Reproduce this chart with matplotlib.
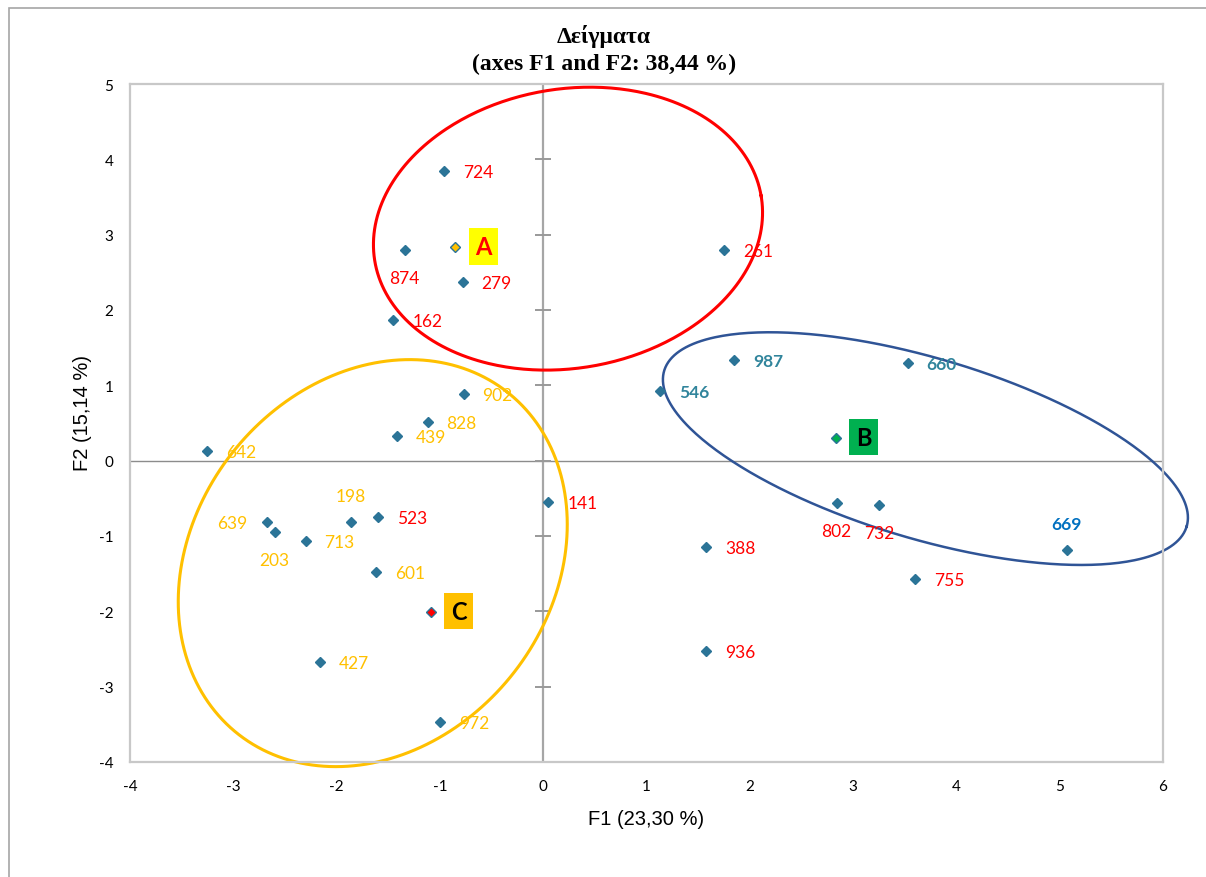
import numpy as np
import matplotlib
matplotlib.use("Agg")
import matplotlib.pyplot as plt
from matplotlib.patches import Rectangle

plt.rcParams['axes.unicode_minus'] = False

# sample scores on F1 / F2
names = ['724', '874', '279', '162', '261', '987', '660', '546', '802', '732',
         '669', '755', '388', '936', '141', '902', '828', '439', '642', '639',
         '203', '713', '198', '523', '601', '427', '972']
f1 = [-0.96, -1.34, -0.78, -1.45, 1.75, 1.85, 3.53, 1.13, 2.84, 3.25,
      5.07, 3.60, 1.58, 1.58, 0.05, -0.77, -1.12, -1.42, -3.25, -2.67,
      -2.60, -2.30, -1.86, -1.60, -1.62, -2.16, -1.00]
f2 = [3.85, 2.80, 2.37, 1.87, 2.80, 1.33, 1.30, 0.93, -0.56, -0.59,
      -1.19, -1.57, -1.14, -2.53, -0.55, 0.89, 0.51, 0.33, 0.13, -0.81,
      -0.95, -1.07, -0.81, -0.75, -1.48, -2.67, -3.47]

# group centroids
groups = ['A', 'B', 'C']
cx = [-0.85, 2.83, -1.09]
cy = [2.83, 0.30, -2.01]

RED = '#FF0000'
YEL = '#FFC000'
TEAL = '#31859C'
BLUE = '#0070C0'
MARK = '#2B7497'

lab_color = {'724': RED, '874': RED, '279': RED, '162': RED, '261': RED,
             '802': RED, '732': RED, '755': RED, '388': RED, '936': RED,
             '141': RED, '523': RED,
             '987': TEAL, '660': TEAL, '546': TEAL, '669': BLUE}
bold_labels = ['987', '660', '546', '669']
# label side relative to marker
side = {'874': 'b', '802': 'b', '732': 'b', '203': 'b',
        '669': 't', '198': 't', '639': 'l'}
offs = {'r': (34, -1), 'b': (0, -28), 't': (0, 26), 'l': (-35, -1)}

fig = plt.figure(figsize=(12.06, 8.78), dpi=100)
fig.patches.append(Rectangle((9 / 1206, -0.1), 1.2, 1 - 9 / 878 + 0.1,
                             transform=fig.transFigure, fill=False,
                             edgecolor='#A6A6A6', linewidth=1.2))

L, R, T, B = 130, 1163, 85, 763
ax = fig.add_axes([L / 1206, 1 - B / 878, (R - L) / 1206, (B - T) / 878])
ax.set_xlim(-4, 6)
ax.set_ylim(-4, 5)
ax.set_xticks(range(-4, 7))
ax.set_yticks(range(-4, 6))
ax.tick_params(length=0, labelsize=11, pad=12)
for t in ax.get_xticklabels() + ax.get_yticklabels():
    t.set_family(['Lato', 'DejaVu Sans'])
for s in ax.spines.values():
    s.set_color('#C8C8C8')
    s.set_linewidth(1.6)

# zero lines
ax.axhline(0, color='#8C8C8C', lw=1.0, zorder=1)
ax.axvline(0, color='#A6A6A6', lw=1.6, zorder=1)
ax.plot(np.zeros(10), np.arange(-4, 6), ls='none', marker='_', ms=11,
        mew=1.4, color='#999999', zorder=1, clip_on=False)

# points
ax.plot(f1, f2, ls='none', marker='D', ms=4.6, color=MARK, zorder=3)
for n, x, y in zip(names, f1, f2):
    dx, dy = offs[side.get(n, 'r')]
    ax.annotate(n, (x, y), xytext=(dx, dy), textcoords='offset pixels',
                ha='center', va='center', fontsize=12.5,
                color=lab_color.get(n, YEL),
                fontweight='bold' if n in bold_labels else 'normal',
                family=['Lato', 'DejaVu Sans'], zorder=4)

# centroids with boxed letters
face = ['#FFC000', '#00B050', '#FF0000']
box = ['#FFFF00', '#00B050', '#FFC000']
txt = ['#FF0000', 'black', 'black']
for g, x, y, fc, bc, tc in zip(groups, cx, cy, face, box, txt):
    ax.plot(x, y, ls='none', marker='D', ms=4.6, mfc=fc, mec=MARK,
            mew=1.0, zorder=4)
    ax.annotate(g, (x, y), xytext=(28, 1), textcoords='offset pixels',
                ha='center', va='center', fontsize=17, fontweight='bold',
                color=tc, family=['Lato', 'DejaVu Sans'], zorder=5,
                bbox=dict(boxstyle='square,pad=0.28', fc=bc, ec='none'))

# group ellipses (centre in data units, semi-axes in pixels, angle in degrees)
sx = (R - L) / 10.0
sy = (B - T) / 9.0
ell_c = [(0.24, 3.08), (3.70, 0.16), (-1.65, -1.36)]
ell_ab = [(195.9, 139.6), (272.6, 90.2), (217.6, 178.6)]
ell_ang = [9.6, -16.6, 51.7]
ell_col = [RED, '#2F5496', YEL]
ell_lw = [2.2, 1.8, 2.2]
tt = np.linspace(0, 2 * np.pi, 400)
for (ex, ey), (a, b), ang, c, lw in zip(ell_c, ell_ab, ell_ang, ell_col, ell_lw):
    th = np.radians(ang)
    u, v = a * np.cos(tt), b * np.sin(tt)
    ax.plot(ex + (u * np.cos(th) - v * np.sin(th)) / sx,
            ey + (u * np.sin(th) + v * np.cos(th)) / sy,
            color=c, lw=lw, zorder=2, clip_on=False)

ax.set_xlabel('F1 (23,30 %)', fontsize=14.5, family=['Liberation Sans', 'DejaVu Sans'])
ax.set_ylabel('F2 (15,14 %)', fontsize=14.5, family=['Liberation Sans', 'DejaVu Sans'])
ax.xaxis.set_label_coords(0.5, -47 / 678)
ax.yaxis.set_label_coords(-38 / 1033, (763 - 413) / 678)

fig.text(604 / 1206, 1 - 37 / 878, 'Δείγματα', ha='center', va='center',
         fontsize=17, fontweight='bold', family=['Liberation Serif', 'DejaVu Serif'])
fig.text(604 / 1206, 1 - 64 / 878, '(axes F1 and F2: 38,44 %)', ha='center',
         va='center', fontsize=17, fontweight='bold',
         family=['Liberation Serif', 'DejaVu Serif'])

fig.savefig('out.png', dpi=100)
